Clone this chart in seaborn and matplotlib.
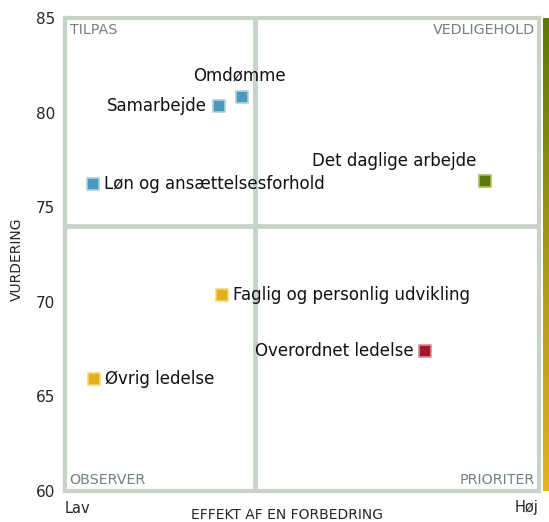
import matplotlib
matplotlib.use("Agg")
import matplotlib.pyplot as plt
import seaborn as sns
import pandas as pd
import numpy as np

# data
names = ['Omdømme', 'Samarbejde', 'Løn og ansættelsesforhold', 'Det daglige arbejde',
         'Faglig og personlig udvikling', 'Overordnet ledelse', 'Øvrig ledelse']
effekt = [37.3, 32.5, 5.9, 88.6, 33.1, 75.9, 6.1]
vurdering = [80.8, 80.35, 76.2, 76.4, 70.35, 67.4, 65.9]
gruppe = ['blaa', 'blaa', 'blaa', 'groen', 'gul', 'roed', 'gul']
y_ticks = [60, 65, 70, 75, 80, 85]
x_split = 40
y_split = 74
quadrants = ['TILPAS', 'VEDLIGEHOLD', 'OBSERVER', 'PRIORITER']

colors = {'blaa': '#4a9bbb', 'groen': '#5c7a08', 'gul': '#e2b01a', 'roed': '#a3172e'}
edges = {'blaa': '#a9d2e2', 'groen': '#a8c060', 'gul': '#f3d878', 'roed': '#e48890'}
line_col = '#c7d3c7'

df = pd.DataFrame({'name': names, 'x': effekt, 'y': vurdering, 'g': gruppe})

# label offsets in points: (dx, dy, ha)
offs = {
    'Omdømme': (-1.5, 16, 'center'),
    'Samarbejde': (-9, 0, 'right'),
    'Løn og ansættelsesforhold': (8, 0, 'left'),
    'Det daglige arbejde': (-6.5, 14.5, 'right'),
    'Faglig og personlig udvikling': (8, 0, 'left'),
    'Overordnet ledelse': (-8, 0, 'right'),
    'Øvrig ledelse': (8, 0, 'left'),
}


def draw_figure():
    sns.set_style("white")
    plt.rcParams['font.family'] = ['DejaVu Sans']
    fig = plt.figure(figsize=(5.49, 5.22), dpi=100)
    ax = fig.add_axes([0.1184, 0.0594, 0.8634, 0.9061])

    ax.axvline(x_split, color=line_col, lw=3.5, zorder=1)
    ax.axhline(y_split, color=line_col, lw=3.5, zorder=1)

    for g in colors:
        sub = df[df['g'] == g]
        sns.scatterplot(data=sub, x='x', y='y', marker='s', s=70, color=colors[g],
                        edgecolor=edges[g], linewidth=1.2, ax=ax, zorder=3, legend=False)

    for n, x, y in zip(names, effekt, vurdering):
        dx, dy, ha = offs[n]
        ax.annotate(n, (x, y), xytext=(dx, dy), textcoords='offset points',
                    ha=ha, va='center', fontsize=12, color='#111111')

    ax.set_xlim(0, 100)
    ax.set_ylim(60, 85)
    ax.set_yticks(y_ticks)
    ax.set_yticklabels([str(t) for t in y_ticks], fontsize=11)
    ax.tick_params(axis='y', length=0, pad=7)
    ax.set_xticks([])
    ax.set_xlabel('EFFEKT AF EN FORBEDRING', fontsize=10)
    ax.xaxis.set_label_coords(0.468, -0.035)
    ax.set_ylabel('VURDERING', fontsize=10)
    ax.yaxis.set_label_coords(-0.087, 0.49)
    for sp in ax.spines.values():
        sp.set_color(line_col)
        sp.set_linewidth(3)

    qc = '#72827c'
    ax.text(1, 84.75, quadrants[0], ha='left', va='top', fontsize=10.3, color=qc)
    ax.text(99.2, 84.75, quadrants[1], ha='right', va='top', fontsize=10.3, color=qc)
    ax.text(1, 60.2, quadrants[2], ha='left', va='bottom', fontsize=10.3, color=qc)
    ax.text(99.2, 60.2, quadrants[3], ha='right', va='bottom', fontsize=10.3, color=qc)

    ax.text(0, 59.45, 'Lav', ha='left', va='top', fontsize=10.5)
    ax.text(99.8, 59.55, 'Høj', ha='right', va='top', fontsize=10.5)

    # gradient bar on the right
    cax = fig.add_axes([543 / 549, 0.0594, 6 / 549, 0.9061])
    cmap = matplotlib.colors.LinearSegmentedColormap.from_list('g', ['#e6b21a', '#a89a10', '#5a7a00'])
    grad = np.linspace(1, 0, 256).reshape(-1, 1)
    cax.imshow(grad, aspect='auto', cmap=cmap)
    cax.set_axis_off()

    fig.savefig('out.png', dpi=100)


draw_figure()
